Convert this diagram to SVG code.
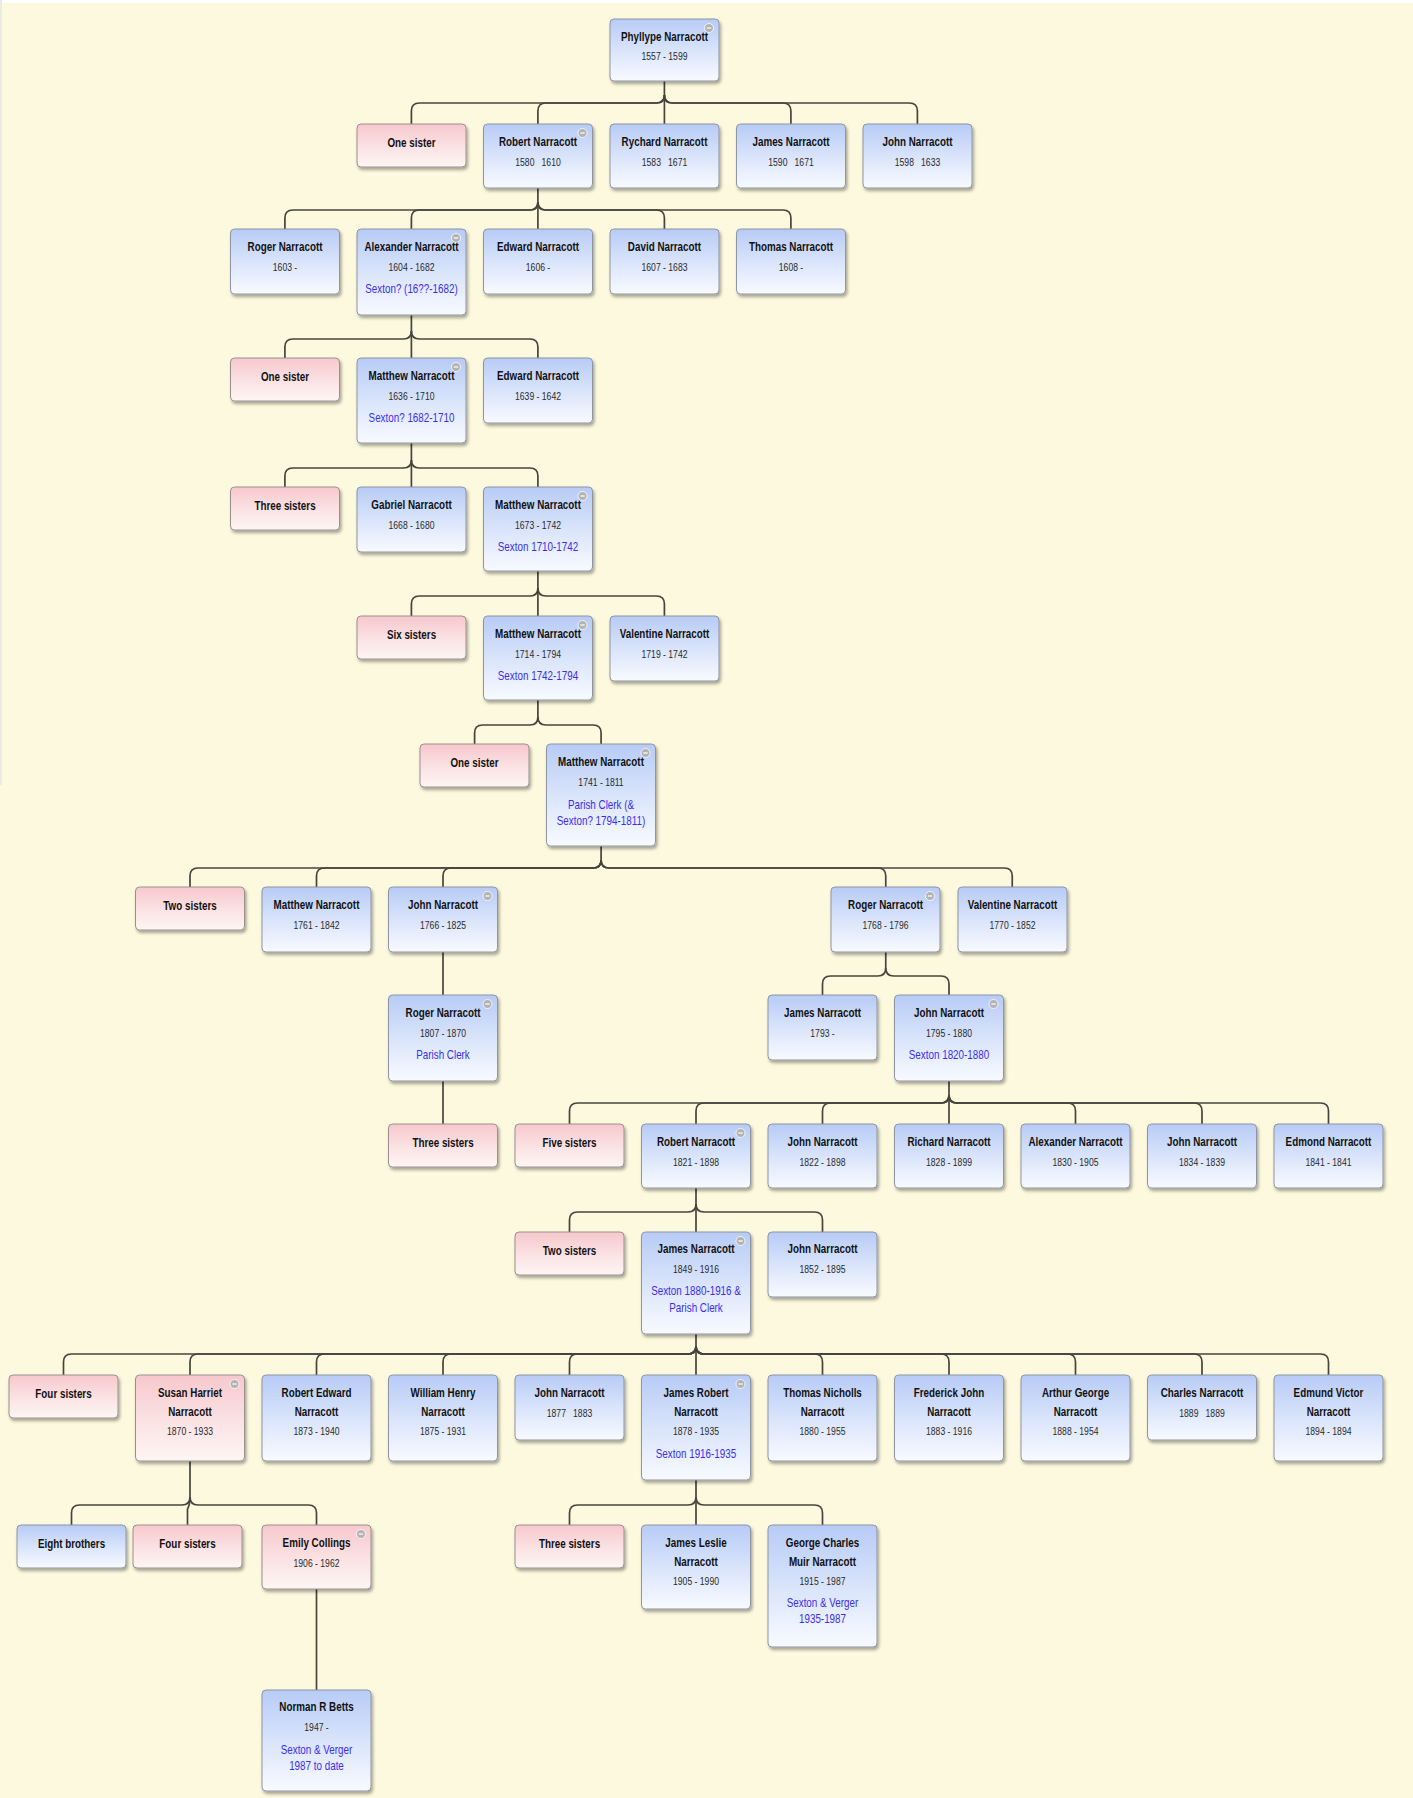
<svg xmlns="http://www.w3.org/2000/svg" width="1413" height="1798" viewBox="0 0 1413 1798">
<defs>
<linearGradient id="gb" x1="0" y1="0" x2="0" y2="1">
<stop offset="0" stop-color="#b7cbf6"/><stop offset="0.5" stop-color="#d9e4fb"/><stop offset="1" stop-color="#f8faff"/>
</linearGradient>
<linearGradient id="gp" x1="0" y1="0" x2="0" y2="1">
<stop offset="0" stop-color="#f7c8cd"/><stop offset="0.55" stop-color="#fbe3e4"/><stop offset="1" stop-color="#fdf6f4"/>
</linearGradient>
<filter id="sh" x="-10%" y="-10%" width="125%" height="135%">
<feDropShadow dx="1.5" dy="2.5" stdDeviation="1.5" flood-color="#000" flood-opacity="0.35"/>
</filter>
<g id="col"><circle r="4.5" fill="#b3b3b3" stroke="#fff" stroke-width="0.8"/><path d="M-2.2,0 H2.2" stroke="#fff" stroke-width="1.2"/></g>
<style>
.bb{fill:url(#gb);stroke:#8f95a3;stroke-width:1;filter:url(#sh)}
.pb{fill:url(#gp);stroke:#9a9090;stroke-width:1;filter:url(#sh)}
text{font-family:"Liberation Sans",Arial,sans-serif;text-anchor:middle}
.t{font-size:12px;font-weight:bold;fill:#111}
.d{font-size:10.5px;fill:#2a2a2a}
.s{font-size:12px;fill:#3a2df0}
.pre{white-space:pre}
.cn path{fill:none;stroke:#45453d;stroke-width:1.7;stroke-linejoin:round}
</style>
</defs>
<rect width="1413" height="1798" fill="#fdf9de"/>
<rect width="1413" height="3" fill="#ffffff"/>
<rect width="2" height="785" fill="#ecebe8"/>

<g id="connectors" class="cn">
<path d="M664.4,81 V124"/>
<path d="M664.4,95 Q664.4,103 656.4,103 H419.4 Q411.4,103 411.4,111 V124"/>
<path d="M664.4,95 Q664.4,103 656.4,103 H545.9 Q537.9,103 537.9,111 V124"/>
<path d="M664.4,95 Q664.4,103 672.4,103 H782.9 Q790.9,103 790.9,111 V124"/>
<path d="M664.4,95 Q664.4,103 672.4,103 H909.4 Q917.4,103 917.4,111 V124"/>

<path d="M537.9,188 V229"/>
<path d="M537.9,202 Q537.9,210 529.9,210 H292.9 Q284.9,210 284.9,218 V229"/>
<path d="M537.9,202 Q537.9,210 529.9,210 H419.4 Q411.4,210 411.4,218 V229"/>
<path d="M537.9,202 Q537.9,210 545.9,210 H656.4 Q664.4,210 664.4,218 V229"/>
<path d="M537.9,202 Q537.9,210 545.9,210 H782.9 Q790.9,210 790.9,218 V229"/>

<path d="M411.4,315 V358"/>
<path d="M411.4,331 Q411.4,339 403.4,339 H292.9 Q284.9,339 284.9,347 V358"/>
<path d="M411.4,331 Q411.4,339 419.4,339 H529.9 Q537.9,339 537.9,347 V358"/>

<path d="M411.4,443 V487"/>
<path d="M411.4,460 Q411.4,468 403.4,468 H292.9 Q284.9,468 284.9,476 V487"/>
<path d="M411.4,460 Q411.4,468 419.4,468 H529.9 Q537.9,468 537.9,476 V487"/>

<path d="M537.9,571 V616"/>
<path d="M537.9,588 Q537.9,596 529.9,596 H419.4 Q411.4,596 411.4,604 V616"/>
<path d="M537.9,588 Q537.9,596 545.9,596 H656.4 Q664.4,596 664.4,604 V616"/>

<path d="M537.9,700 V717"/>
<path d="M537.9,717 Q537.9,725 529.9,725 H482.6 Q474.6,725 474.6,733 V744"/>
<path d="M537.9,717 Q537.9,725 545.9,725 H593.1 Q601.1,725 601.1,733 V744"/>

<path d="M601.1,846 V860"/>
<path d="M601.1,860 Q601.1,868 593.1,868 H198 Q190,868 190,876 V887"/>
<path d="M601.1,860 Q601.1,868 593.1,868 H324.5 Q316.5,868 316.5,876 V887"/>
<path d="M601.1,860 Q601.1,868 593.1,868 H451 Q443,868 443,876 V887"/>
<path d="M601.1,860 Q601.1,868 609.1,868 H877.75 Q885.75,868 885.75,876 V887"/>
<path d="M601.1,860 Q601.1,868 609.1,868 H1004.25 Q1012.25,868 1012.25,876 V887"/>

<path d="M443,952 V995"/>

<path d="M885.75,952 V968"/>
<path d="M885.75,968 Q885.75,976 877.75,976 H830.5 Q822.5,976 822.5,984 V995"/>
<path d="M885.75,968 Q885.75,976 893.75,976 H941 Q949,976 949,984 V995"/>

<path d="M443,1081 V1124"/>

<path d="M949,1081 V1124"/>
<path d="M949,1095 Q949,1103 941,1103 H577.5 Q569.5,1103 569.5,1111 V1124"/>
<path d="M949,1095 Q949,1103 941,1103 H704 Q696,1103 696,1111 V1124"/>
<path d="M949,1095 Q949,1103 941,1103 H830.5 Q822.5,1103 822.5,1111 V1124"/>
<path d="M949,1095 Q949,1103 957,1103 H1067.5 Q1075.5,1103 1075.5,1111 V1124"/>
<path d="M949,1095 Q949,1103 957,1103 H1194 Q1202,1103 1202,1111 V1124"/>
<path d="M949,1095 Q949,1103 957,1103 H1320.5 Q1328.5,1103 1328.5,1111 V1124"/>

<path d="M696,1188 V1232"/>
<path d="M696,1204 Q696,1212 688,1212 H577.5 Q569.5,1212 569.5,1220 V1232"/>
<path d="M696,1204 Q696,1212 704,1212 H814.5 Q822.5,1212 822.5,1220 V1232"/>

<path d="M696,1334 V1375"/>
<path d="M696,1346 Q696,1354 688,1354 H71.5 Q63.5,1354 63.5,1362 V1375"/>
<path d="M696,1346 Q696,1354 688,1354 H198 Q190,1354 190,1362 V1375"/>
<path d="M696,1346 Q696,1354 688,1354 H324.5 Q316.5,1354 316.5,1362 V1375"/>
<path d="M696,1346 Q696,1354 688,1354 H451 Q443,1354 443,1362 V1375"/>
<path d="M696,1346 Q696,1354 688,1354 H577.5 Q569.5,1354 569.5,1362 V1375"/>
<path d="M696,1346 Q696,1354 704,1354 H814.5 Q822.5,1354 822.5,1362 V1375"/>
<path d="M696,1346 Q696,1354 704,1354 H941 Q949,1354 949,1362 V1375"/>
<path d="M696,1346 Q696,1354 704,1354 H1067.5 Q1075.5,1354 1075.5,1362 V1375"/>
<path d="M696,1346 Q696,1354 704,1354 H1194 Q1202,1354 1202,1362 V1375"/>
<path d="M696,1346 Q696,1354 704,1354 H1320.5 Q1328.5,1354 1328.5,1362 V1375"/>

<path d="M190,1461 V1497"/>
<path d="M190,1497 Q190,1505 182,1505 H79.5 Q71.5,1505 71.5,1513 V1525"/>
<path d="M190,1497 Q190,1505 187.5,1509 V1525"/>
<path d="M190,1497 Q190,1505 198,1505 H308.5 Q316.5,1505 316.5,1513 V1525"/>

<path d="M696,1480 V1525"/>
<path d="M696,1497 Q696,1505 688,1505 H577.5 Q569.5,1505 569.5,1513 V1525"/>
<path d="M696,1497 Q696,1505 704,1505 H814.5 Q822.5,1505 822.5,1513 V1525"/>

<path d="M316.5,1589 V1690"/>
</g>

<g id="phyllype" transform="translate(610,19)"><rect class="bb" width="109" height="62" rx="4"/><use href="#col" x="99" y="9"/><g transform="matrix(.82 0 0 1 54.5 0)"><text class="t" y="22">Phyllype Narracott</text><text class="d" y="41">1557 - 1599</text></g></g>

<g id="sister-r2" transform="translate(357,124)"><rect class="pb" width="109" height="43" rx="4"/><g transform="matrix(.82 0 0 1 54.5 0)"><text class="t" y="23">One sister</text></g></g>
<g id="robert-1580" transform="translate(483.5,124)"><rect class="bb" width="109" height="64" rx="4"/><use href="#col" x="99" y="9"/><g transform="matrix(.82 0 0 1 54.5 0)"><text class="t" y="22">Robert Narracott</text><text class="d pre" y="42">1580   1610</text></g></g>
<g id="rychard-1583" transform="translate(610,124)"><rect class="bb" width="109" height="64" rx="4"/><g transform="matrix(.82 0 0 1 54.5 0)"><text class="t" y="22">Rychard Narracott</text><text class="d pre" y="42">1583   1671</text></g></g>
<g id="james-1590" transform="translate(736.5,124)"><rect class="bb" width="109" height="64" rx="4"/><g transform="matrix(.82 0 0 1 54.5 0)"><text class="t" y="22">James Narracott</text><text class="d pre" y="42">1590   1671</text></g></g>
<g id="john-1598" transform="translate(863,124)"><rect class="bb" width="109" height="64" rx="4"/><g transform="matrix(.82 0 0 1 54.5 0)"><text class="t" y="22">John Narracott</text><text class="d pre" y="42">1598   1633</text></g></g>

<g id="roger-1603" transform="translate(230.5,229)"><rect class="bb" width="109" height="65" rx="4"/><g transform="matrix(.82 0 0 1 54.5 0)"><text class="t" y="22">Roger Narracott</text><text class="d" y="42">1603 -</text></g></g>
<g id="alexander-1604" transform="translate(357,229)"><rect class="bb" width="109" height="86" rx="4"/><use href="#col" x="99" y="9"/><g transform="matrix(.82 0 0 1 54.5 0)"><text class="t" y="22">Alexander Narracott</text><text class="d" y="42">1604 - 1682</text><text class="s" y="64">Sexton? (16??-1682)</text></g></g>
<g id="edward-1606" transform="translate(483.5,229)"><rect class="bb" width="109" height="65" rx="4"/><g transform="matrix(.82 0 0 1 54.5 0)"><text class="t" y="22">Edward Narracott</text><text class="d" y="42">1606 -</text></g></g>
<g id="david-1607" transform="translate(610,229)"><rect class="bb" width="109" height="65" rx="4"/><g transform="matrix(.82 0 0 1 54.5 0)"><text class="t" y="22">David Narracott</text><text class="d" y="42">1607 - 1683</text></g></g>
<g id="thomas-1608" transform="translate(736.5,229)"><rect class="bb" width="109" height="65" rx="4"/><g transform="matrix(.82 0 0 1 54.5 0)"><text class="t" y="22">Thomas Narracott</text><text class="d" y="42">1608 -</text></g></g>

<g id="sister-r4" transform="translate(230.5,358)"><rect class="pb" width="109" height="43" rx="4"/><g transform="matrix(.82 0 0 1 54.5 0)"><text class="t" y="23">One sister</text></g></g>
<g id="matthew-1636" transform="translate(357,358)"><rect class="bb" width="109" height="85" rx="4"/><use href="#col" x="99" y="9"/><g transform="matrix(.82 0 0 1 54.5 0)"><text class="t" y="22">Matthew Narracott</text><text class="d" y="42">1636 - 1710</text><text class="s" y="64">Sexton? 1682-1710</text></g></g>
<g id="edward-1639" transform="translate(483.5,358)"><rect class="bb" width="109" height="65" rx="4"/><g transform="matrix(.82 0 0 1 54.5 0)"><text class="t" y="22">Edward Narracott</text><text class="d" y="42">1639 - 1642</text></g></g>

<g id="sisters-r5" transform="translate(230.5,487)"><rect class="pb" width="109" height="43" rx="4"/><g transform="matrix(.82 0 0 1 54.5 0)"><text class="t" y="23">Three sisters</text></g></g>
<g id="gabriel-1668" transform="translate(357,487)"><rect class="bb" width="109" height="65" rx="4"/><g transform="matrix(.82 0 0 1 54.5 0)"><text class="t" y="22">Gabriel Narracott</text><text class="d" y="42">1668 - 1680</text></g></g>
<g id="matthew-1673" transform="translate(483.5,487)"><rect class="bb" width="109" height="84" rx="4"/><use href="#col" x="99" y="9"/><g transform="matrix(.82 0 0 1 54.5 0)"><text class="t" y="22">Matthew Narracott</text><text class="d" y="42">1673 - 1742</text><text class="s" y="64">Sexton 1710-1742</text></g></g>

<g id="sisters-r6" transform="translate(357,616)"><rect class="pb" width="109" height="43" rx="4"/><g transform="matrix(.82 0 0 1 54.5 0)"><text class="t" y="23">Six sisters</text></g></g>
<g id="matthew-1714" transform="translate(483.5,616)"><rect class="bb" width="109" height="84" rx="4"/><use href="#col" x="99" y="9"/><g transform="matrix(.82 0 0 1 54.5 0)"><text class="t" y="22">Matthew Narracott</text><text class="d" y="42">1714 - 1794</text><text class="s" y="64">Sexton 1742-1794</text></g></g>
<g id="valentine-1719" transform="translate(610,616)"><rect class="bb" width="109" height="65" rx="4"/><g transform="matrix(.82 0 0 1 54.5 0)"><text class="t" y="22">Valentine Narracott</text><text class="d" y="42">1719 - 1742</text></g></g>

<g id="sister-r7" transform="translate(420,744)"><rect class="pb" width="109" height="43" rx="4"/><g transform="matrix(.82 0 0 1 54.5 0)"><text class="t" y="23">One sister</text></g></g>
<g id="matthew-1741" transform="translate(546.5,744)"><rect class="bb" width="109" height="102" rx="4"/><use href="#col" x="99" y="9"/><g transform="matrix(.82 0 0 1 54.5 0)"><text class="t" y="22">Matthew Narracott</text><text class="d" y="42">1741 - 1811</text><text class="s" y="65">Parish Clerk (&amp;</text><text class="s" y="81">Sexton? 1794-1811)</text></g></g>

<g id="sisters-r8" transform="translate(135.5,887)"><rect class="pb" width="109" height="43" rx="4"/><g transform="matrix(.82 0 0 1 54.5 0)"><text class="t" y="23">Two sisters</text></g></g>
<g id="matthew-1761" transform="translate(262,887)"><rect class="bb" width="109" height="65" rx="4"/><g transform="matrix(.82 0 0 1 54.5 0)"><text class="t" y="22">Matthew Narracott</text><text class="d" y="42">1761 - 1842</text></g></g>
<g id="john-1766" transform="translate(388.5,887)"><rect class="bb" width="109" height="65" rx="4"/><use href="#col" x="99" y="9"/><g transform="matrix(.82 0 0 1 54.5 0)"><text class="t" y="22">John Narracott</text><text class="d" y="42">1766 - 1825</text></g></g>
<g id="roger-1768" transform="translate(831,887)"><rect class="bb" width="109" height="65" rx="4"/><use href="#col" x="99" y="9"/><g transform="matrix(.82 0 0 1 54.5 0)"><text class="t" y="22">Roger Narracott</text><text class="d" y="42">1768 - 1796</text></g></g>
<g id="valentine-1770" transform="translate(958,887)"><rect class="bb" width="109" height="65" rx="4"/><g transform="matrix(.82 0 0 1 54.5 0)"><text class="t" y="22">Valentine Narracott</text><text class="d" y="42">1770 - 1852</text></g></g>

<g id="roger-1807" transform="translate(388.5,995)"><rect class="bb" width="109" height="86" rx="4"/><use href="#col" x="99" y="9"/><g transform="matrix(.82 0 0 1 54.5 0)"><text class="t" y="22">Roger Narracott</text><text class="d" y="42">1807 - 1870</text><text class="s" y="64">Parish Clerk</text></g></g>
<g id="james-1793" transform="translate(768,995)"><rect class="bb" width="109" height="65" rx="4"/><g transform="matrix(.82 0 0 1 54.5 0)"><text class="t" y="22">James Narracott</text><text class="d" y="42">1793 -</text></g></g>
<g id="john-1795" transform="translate(894.5,995)"><rect class="bb" width="109" height="86" rx="4"/><use href="#col" x="99" y="9"/><g transform="matrix(.82 0 0 1 54.5 0)"><text class="t" y="22">John Narracott</text><text class="d" y="42">1795 - 1880</text><text class="s" y="64">Sexton 1820-1880</text></g></g>

<g id="sisters-r10a" transform="translate(388.5,1124)"><rect class="pb" width="109" height="43" rx="4"/><g transform="matrix(.82 0 0 1 54.5 0)"><text class="t" y="23">Three sisters</text></g></g>
<g id="sisters-r10b" transform="translate(515,1124)"><rect class="pb" width="109" height="43" rx="4"/><g transform="matrix(.82 0 0 1 54.5 0)"><text class="t" y="23">Five sisters</text></g></g>
<g id="robert-1821" transform="translate(641.5,1124)"><rect class="bb" width="109" height="64" rx="4"/><use href="#col" x="99" y="9"/><g transform="matrix(.82 0 0 1 54.5 0)"><text class="t" y="22">Robert Narracott</text><text class="d" y="42">1821 - 1898</text></g></g>
<g id="john-1822" transform="translate(768,1124)"><rect class="bb" width="109" height="64" rx="4"/><g transform="matrix(.82 0 0 1 54.5 0)"><text class="t" y="22">John Narracott</text><text class="d" y="42">1822 - 1898</text></g></g>
<g id="richard-1828" transform="translate(894.5,1124)"><rect class="bb" width="109" height="64" rx="4"/><g transform="matrix(.82 0 0 1 54.5 0)"><text class="t" y="22">Richard Narracott</text><text class="d" y="42">1828 - 1899</text></g></g>
<g id="alexander-1830" transform="translate(1021,1124)"><rect class="bb" width="109" height="64" rx="4"/><g transform="matrix(.82 0 0 1 54.5 0)"><text class="t" y="22">Alexander Narracott</text><text class="d" y="42">1830 - 1905</text></g></g>
<g id="john-1834" transform="translate(1147.5,1124)"><rect class="bb" width="109" height="64" rx="4"/><g transform="matrix(.82 0 0 1 54.5 0)"><text class="t" y="22">John Narracott</text><text class="d" y="42">1834 - 1839</text></g></g>
<g id="edmond-1841" transform="translate(1274,1124)"><rect class="bb" width="109" height="64" rx="4"/><g transform="matrix(.82 0 0 1 54.5 0)"><text class="t" y="22">Edmond Narracott</text><text class="d" y="42">1841 - 1841</text></g></g>

<g id="sisters-r11" transform="translate(515,1232)"><rect class="pb" width="109" height="43" rx="4"/><g transform="matrix(.82 0 0 1 54.5 0)"><text class="t" y="23">Two sisters</text></g></g>
<g id="james-1849" transform="translate(641.5,1232)"><rect class="bb" width="109" height="102" rx="4"/><use href="#col" x="99" y="9"/><g transform="matrix(.82 0 0 1 54.5 0)"><text class="t" y="21">James Narracott</text><text class="d" y="41">1849 - 1916</text><text class="s" y="63">Sexton 1880-1916 &amp;</text><text class="s" y="80">Parish Clerk</text></g></g>
<g id="john-1852" transform="translate(768,1232)"><rect class="bb" width="109" height="65" rx="4"/><g transform="matrix(.82 0 0 1 54.5 0)"><text class="t" y="21">John Narracott</text><text class="d" y="41">1852 - 1895</text></g></g>

<g id="sisters-r12" transform="translate(9,1375)"><rect class="pb" width="109" height="43" rx="4"/><g transform="matrix(.82 0 0 1 54.5 0)"><text class="t" y="23">Four sisters</text></g></g>
<g id="susan-1870" transform="translate(135.5,1375)"><rect class="pb" width="109" height="86" rx="4"/><use href="#col" x="99" y="9"/><g transform="matrix(.82 0 0 1 54.5 0)"><text class="t" y="22">Susan Harriet</text><text class="t" y="41">Narracott</text><text class="d" y="60">1870 - 1933</text></g></g>
<g id="robert-1873" transform="translate(262,1375)"><rect class="bb" width="109" height="86" rx="4"/><g transform="matrix(.82 0 0 1 54.5 0)"><text class="t" y="22">Robert Edward</text><text class="t" y="41">Narracott</text><text class="d" y="60">1873 - 1940</text></g></g>
<g id="william-1875" transform="translate(388.5,1375)"><rect class="bb" width="109" height="86" rx="4"/><g transform="matrix(.82 0 0 1 54.5 0)"><text class="t" y="22">William Henry</text><text class="t" y="41">Narracott</text><text class="d" y="60">1875 - 1931</text></g></g>
<g id="john-1877" transform="translate(515,1375)"><rect class="bb" width="109" height="65" rx="4"/><g transform="matrix(.82 0 0 1 54.5 0)"><text class="t" y="22">John Narracott</text><text class="d pre" y="42">1877   1883</text></g></g>
<g id="james-1878" transform="translate(641.5,1375)"><rect class="bb" width="109" height="105" rx="4"/><use href="#col" x="99" y="9"/><g transform="matrix(.82 0 0 1 54.5 0)"><text class="t" y="22">James Robert</text><text class="t" y="41">Narracott</text><text class="d" y="60">1878 - 1935</text><text class="s" y="83">Sexton 1916-1935</text></g></g>
<g id="thomas-1880" transform="translate(768,1375)"><rect class="bb" width="109" height="86" rx="4"/><g transform="matrix(.82 0 0 1 54.5 0)"><text class="t" y="22">Thomas Nicholls</text><text class="t" y="41">Narracott</text><text class="d" y="60">1880 - 1955</text></g></g>
<g id="frederick-1883" transform="translate(894.5,1375)"><rect class="bb" width="109" height="86" rx="4"/><g transform="matrix(.82 0 0 1 54.5 0)"><text class="t" y="22">Frederick John</text><text class="t" y="41">Narracott</text><text class="d" y="60">1883 - 1916</text></g></g>
<g id="arthur-1888" transform="translate(1021,1375)"><rect class="bb" width="109" height="86" rx="4"/><g transform="matrix(.82 0 0 1 54.5 0)"><text class="t" y="22">Arthur George</text><text class="t" y="41">Narracott</text><text class="d" y="60">1888 - 1954</text></g></g>
<g id="charles-1889" transform="translate(1147.5,1375)"><rect class="bb" width="109" height="65" rx="4"/><g transform="matrix(.82 0 0 1 54.5 0)"><text class="t" y="22">Charles Narracott</text><text class="d pre" y="42">1889   1889</text></g></g>
<g id="edmund-1894" transform="translate(1274,1375)"><rect class="bb" width="109" height="86" rx="4"/><g transform="matrix(.82 0 0 1 54.5 0)"><text class="t" y="22">Edmund Victor</text><text class="t" y="41">Narracott</text><text class="d" y="60">1894 - 1894</text></g></g>

<g id="brothers-r13" transform="translate(17,1525)"><rect class="bb" width="109" height="43" rx="4"/><g transform="matrix(.82 0 0 1 54.5 0)"><text class="t" y="23">Eight brothers</text></g></g>
<g id="sisters-r13a" transform="translate(133,1525)"><rect class="pb" width="109" height="43" rx="4"/><g transform="matrix(.82 0 0 1 54.5 0)"><text class="t" y="23">Four sisters</text></g></g>
<g id="emily-1906" transform="translate(262,1525)"><rect class="pb" width="109" height="64" rx="4"/><use href="#col" x="99" y="9"/><g transform="matrix(.82 0 0 1 54.5 0)"><text class="t" y="22">Emily Collings</text><text class="d" y="42">1906 - 1962</text></g></g>
<g id="sisters-r13b" transform="translate(515,1525)"><rect class="pb" width="109" height="43" rx="4"/><g transform="matrix(.82 0 0 1 54.5 0)"><text class="t" y="23">Three sisters</text></g></g>
<g id="james-1905" transform="translate(641.5,1525)"><rect class="bb" width="109" height="84" rx="4"/><g transform="matrix(.82 0 0 1 54.5 0)"><text class="t" y="22">James Leslie</text><text class="t" y="41">Narracott</text><text class="d" y="60">1905 - 1990</text></g></g>
<g id="george-1915" transform="translate(768,1525)"><rect class="bb" width="109" height="122" rx="4"/><g transform="matrix(.82 0 0 1 54.5 0)"><text class="t" y="22">George Charles</text><text class="t" y="41">Muir Narracott</text><text class="d" y="60">1915 - 1987</text><text class="s" y="82">Sexton &amp; Verger</text><text class="s" y="98">1935-1987</text></g></g>

<g id="norman-1947" transform="translate(262,1690)"><rect class="bb" width="109" height="101" rx="4"/><g transform="matrix(.82 0 0 1 54.5 0)"><text class="t" y="21">Norman R Betts</text><text class="d" y="41">1947 -</text><text class="s" y="64">Sexton &amp; Verger</text><text class="s" y="80">1987 to date</text></g></g>
</svg>
